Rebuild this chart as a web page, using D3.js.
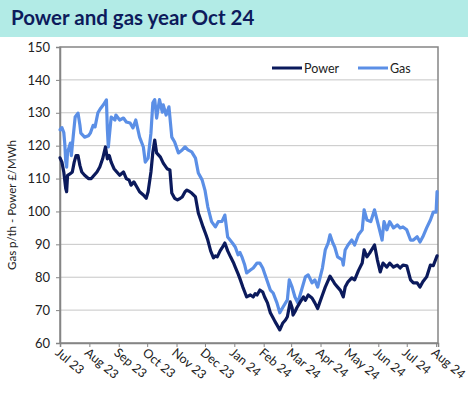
<!DOCTYPE html>
<html>
<head>
<meta charset="utf-8">
<script src="https://cdn.jsdelivr.net/npm/d3@7"></script>
<style>
  html, body { margin: 0; padding: 0; background: #fff; }
  svg { display: block; font-family: Lato, "Open Sans", sans-serif; }
</style>
</head>
<body>
<div id="chart"></div>
<script>
'use strict';

// series (dates are approximate trading days)
var powerDates = ['2023-07-01','2023-07-03','2023-07-05','2023-07-07','2023-07-08','2023-07-09','2023-07-12','2023-07-14','2023-07-16','2023-07-18',
  '2023-07-20','2023-07-22','2023-07-24','2023-07-27','2023-07-31','2023-08-03','2023-08-06','2023-08-09','2023-08-12','2023-08-15',
  '2023-08-18','2023-08-20','2023-08-22','2023-08-24','2023-08-27','2023-08-30','2023-09-02','2023-09-06','2023-09-09','2023-09-12',
  '2023-09-14','2023-09-17','2023-09-20','2023-09-23','2023-09-27','2023-09-30','2023-10-02','2023-10-05','2023-10-07','2023-10-09',
  '2023-10-11','2023-10-15','2023-10-18','2023-10-22','2023-10-25','2023-10-27','2023-10-30','2023-11-02','2023-11-05','2023-11-07',
  '2023-11-10','2023-11-12','2023-11-15','2023-11-17','2023-11-21','2023-11-24','2023-11-27','2023-11-29','2023-12-02','2023-12-04',
  '2023-12-07','2023-12-10','2023-12-12','2023-12-14','2023-12-17','2023-12-19','2023-12-22','2023-12-25','2023-12-28','2023-12-31',
  '2024-01-02','2024-01-05','2024-01-07','2024-01-10','2024-01-12','2024-01-14','2024-01-18','2024-01-21','2024-01-23','2024-01-25',
  '2024-01-28','2024-01-31','2024-02-02','2024-02-05','2024-02-08','2024-02-11','2024-02-13','2024-02-15','2024-02-18','2024-02-21',
  '2024-02-24','2024-02-26','2024-02-29','2024-03-02','2024-03-03','2024-03-05','2024-03-07','2024-03-10','2024-03-14','2024-03-16',
  '2024-03-19','2024-03-23','2024-03-26','2024-03-29','2024-03-31','2024-04-03','2024-04-06','2024-04-09','2024-04-11','2024-04-14',
  '2024-04-16','2024-04-19','2024-04-22','2024-04-25','2024-04-27','2024-04-30','2024-05-04','2024-05-07','2024-05-11','2024-05-15',
  '2024-05-17','2024-05-20','2024-05-23','2024-05-28','2024-05-31','2024-06-03','2024-06-06','2024-06-10','2024-06-13','2024-06-17',
  '2024-06-21','2024-06-24','2024-06-27','2024-07-01','2024-07-05','2024-07-08','2024-07-12','2024-07-15','2024-07-18','2024-07-22',
  '2024-07-26','2024-07-29','2024-08-02'];
var powerValues = [116.3,115,112,107,106,111,111.5,112,115,117,
  117,114,112,111,110,110,111,112,113.5,116,
  119.6,116,117,115,113,112,111,112,110,109.5,
  108,109,107.5,106,105,104,106,112,118,121.7,
  117.8,116.5,114.7,113,112.6,105.6,104,103.5,104,104.4,
  106,106.5,106,105.6,104.4,99.5,97,95.3,93,91.3,
  88,85.9,86.5,86.2,88,88.9,90.4,88,86.2,84.5,
  83.1,81,79.5,77,75.5,74,74.6,74,75,74.6,
  76.1,75.5,74,72.2,69.2,67.6,66.5,65.5,64,66,
  67,68,72.5,70.7,68.5,69.5,70.7,72.2,74,73,
  74.6,73.7,72.2,70.5,72.2,74.6,77,79,80.3,79,
  78,77,76,74,77,78.6,79.8,79.2,82,84.3,
  88.3,86.2,87.4,89.8,85.3,81.6,84.3,83.1,84.3,83.1,
  83.7,82.8,83.7,83.5,79.2,78.3,78.3,77,78.6,80.1,
  83.7,83.5,86.5];

var gasDates = ['2023-07-01','2023-07-03','2023-07-05','2023-07-06','2023-07-07','2023-07-08','2023-07-09','2023-07-12','2023-07-13','2023-07-15',
  '2023-07-17','2023-07-20','2023-07-22','2023-07-23','2023-07-27','2023-07-31','2023-08-02','2023-08-05','2023-08-07','2023-08-10',
  '2023-08-13','2023-08-16','2023-08-19','2023-08-20','2023-08-21','2023-08-24','2023-08-28','2023-08-29','2023-09-02','2023-09-06',
  '2023-09-09','2023-09-13','2023-09-16','2023-09-19','2023-09-23','2023-09-27','2023-09-29','2023-10-02','2023-10-05','2023-10-07',
  '2023-10-09','2023-10-11','2023-10-14','2023-10-17','2023-10-18','2023-10-21','2023-10-24','2023-10-27','2023-10-30','2023-11-03',
  '2023-11-07','2023-11-10','2023-11-13','2023-11-17','2023-11-21','2023-11-24','2023-11-28','2023-12-01','2023-12-04','2023-12-08',
  '2023-12-12','2023-12-15','2023-12-19','2023-12-22','2023-12-25','2023-12-30','2024-01-02','2024-01-05','2024-01-07','2024-01-09',
  '2024-01-12','2024-01-14','2024-01-18','2024-01-21','2024-01-25','2024-01-28','2024-01-31','2024-02-05','2024-02-08','2024-02-11',
  '2024-02-15','2024-02-18','2024-02-21','2024-02-26','2024-02-28','2024-03-02','2024-03-05','2024-03-08','2024-03-12','2024-03-16',
  '2024-03-19','2024-03-23','2024-03-26','2024-03-29','2024-04-03','2024-04-06','2024-04-09','2024-04-11','2024-04-14','2024-04-16',
  '2024-04-19','2024-04-24','2024-04-25','2024-04-27','2024-04-30','2024-05-04','2024-05-07','2024-05-11','2024-05-15','2024-05-17',
  '2024-05-20','2024-05-24','2024-05-28','2024-06-01','2024-06-05','2024-06-07','2024-06-10','2024-06-13','2024-06-17','2024-06-21',
  '2024-06-24','2024-06-27','2024-07-01','2024-07-05','2024-07-08','2024-07-12','2024-07-15','2024-07-18','2024-07-22','2024-07-26',
  '2024-07-29','2024-08-01','2024-08-02'];
var gasValues = [124.8,125.5,124,120.8,115.5,113.5,118,120.8,117,123,
  128.7,129.9,126.3,123.8,122.6,123,123.8,126.2,125.7,130,
  131.4,132.5,133.9,125,119.6,128.7,127.8,129.3,127.8,128.4,
  127.2,126.9,125.4,127.8,122.6,119.6,115,116.2,123.8,133,
  134,128.4,134,130.2,132.4,129.3,131.8,122.6,121.1,117.8,
  118.7,119.6,118.7,118.1,116.2,111.7,109.6,106.5,101.4,96.9,
  95.3,96.9,97,98.9,92.2,90.4,89.2,86.8,87.5,86.2,
  83.7,81.3,82.2,82.8,84.3,84.3,82.8,78.6,76.1,75.2,
  72.2,69.2,70.7,73.1,79.2,77,74,72.2,76.1,80.1,
  80.7,78.3,79.2,77,82.8,88.3,90.4,92.9,90.4,89.2,
  86.2,85.3,83.7,88.3,89.8,91.3,89.8,92.9,94.4,100.5,
  97.4,96.9,100.5,95.9,91.3,96.9,94.4,96.9,95,95.9,
  95,95.3,94.4,91.3,91.3,92.3,90.7,92.3,95,97.4,
  99.8,99.8,106];

var monthTicks = ['2023-07-01','2023-08-01','2023-09-01','2023-10-01','2023-11-01','2023-12-01','2024-01-01',
  '2024-02-01','2024-03-01','2024-04-01','2024-05-01','2024-06-01','2024-07-01','2024-08-01'];
var yTicks = [60, 70, 80, 90, 100, 110, 120, 130, 140, 150];
var seriesNames = ['Power', 'Gas'];
var seriesColors = ['#0b1a5c', '#5b8fe6'];

var W = 468, H = 396;
var margin = {top: 47, right: 30, bottom: 53, left: 60};
var parse = d3.timeParse('%Y-%m-%d');

var svg = d3.select('#chart').append('svg')
  .attr('width', W)
  .attr('height', H);

// title band
svg.append('rect')
  .attr('x', 0).attr('y', 0)
  .attr('width', W).attr('height', 37)
  .attr('fill', '#b2ebe6');

svg.append('text')
  .text('Power and gas year Oct 24')
  .attr('x', 11)
  .attr('y', 25)
  .attr('font-size', 20.5)
  .attr('font-weight', 'bold')
  .attr('fill', '#0d1b5c');

var x = d3.scaleTime()
  .domain([parse('2023-07-01'), parse('2024-08-03')])
  .range([margin.left, W - margin.right]);

var y = d3.scaleLinear()
  .domain([60, 150])
  .range([H - margin.bottom, margin.top]);

// gridlines
svg.append('g')
  .selectAll('line')
  .data(yTicks.slice(1, -1)).enter()
  .append('line')
  .attr('x1', x.range()[0])
  .attr('x2', x.range()[1])
  .attr('y1', function (d) { return y(d); })
  .attr('y2', function (d) { return y(d); })
  .attr('stroke', '#c6c6c6')
  .attr('stroke-width', 1);

// plot frame
svg.append('rect')
  .attr('x', x.range()[0])
  .attr('y', y.range()[1])
  .attr('width', x.range()[1] - x.range()[0])
  .attr('height', y.range()[0] - y.range()[1])
  .attr('fill', 'none')
  .attr('stroke', '#858585')
  .attr('stroke-width', 1.5);

// y axis
var yAxis = svg.append('g')
  .attr('transform', 'translate(' + margin.left + ',0)')
  .call(d3.axisLeft(y).tickValues(yTicks).tickSize(4).tickPadding(6));
yAxis.select('.domain').attr('stroke', '#858585').attr('stroke-width', 1.5);
yAxis.selectAll('.tick line').attr('stroke', '#858585');
yAxis.selectAll('text')
  .attr('font-size', 13)
  .attr('font-family', 'Lato, sans-serif')
  .attr('fill', '#222');

// x axis
var xAxis = svg.append('g')
  .attr('transform', 'translate(0,' + (H - margin.bottom) + ')')
  .call(d3.axisBottom(x)
    .tickValues(monthTicks.map(parse))
    .tickFormat(d3.timeFormat('%b %y'))
    .tickSize(4));
xAxis.select('.domain').attr('stroke', '#858585').attr('stroke-width', 1.5);
xAxis.selectAll('.tick line').attr('stroke', '#858585');
xAxis.selectAll('text')
  .attr('font-size', 12.5)
  .attr('font-family', 'Lato, sans-serif')
  .attr('fill', '#222')
  .attr('text-anchor', 'start')
  .attr('dy', 0)
  .attr('y', 0)
  .attr('transform', 'translate(-6,11) rotate(40)');

// y label
svg.append('text')
  .text('Gas p/th - Power £/MWh')
  .attr('transform', 'translate(16,' + 205 + ') rotate(-90)')
  .attr('text-anchor', 'middle')
  .attr('font-size', 11.5)
  .attr('fill', '#222');

// lines
var line = d3.line()
  .x(function (d) { return x(d.date); })
  .y(function (d) { return y(d.value); });

var series = [
  powerDates.map(function (d, i) { return {date: parse(d), value: powerValues[i]}; }),
  gasDates.map(function (d, i) { return {date: parse(d), value: gasValues[i]}; })
];

// gas drawn first so power sits on top
[1, 0].forEach(function (k) {
  svg.append('path')
    .datum(series[k])
    .attr('d', line)
    .attr('fill', 'none')
    .attr('stroke', seriesColors[k])
    .attr('stroke-width', 3.2)
    .attr('stroke-linejoin', 'round')
    .attr('stroke-linecap', 'round');
});

// legend
var legendX = [272, 358];
seriesNames.forEach(function (name, i) {
  var g = svg.append('g').attr('transform', 'translate(' + legendX[i] + ',68)');
  g.append('line')
    .attr('x1', 0).attr('x2', 30)
    .attr('y1', 0).attr('y2', 0)
    .attr('stroke', seriesColors[i])
    .attr('stroke-width', 3);
  g.append('text')
    .text(name)
    .attr('x', 32)
    .attr('y', 4.5)
    .attr('font-size', 12.5)
    .attr('fill', '#222');
});
</script>
</body>
</html>
